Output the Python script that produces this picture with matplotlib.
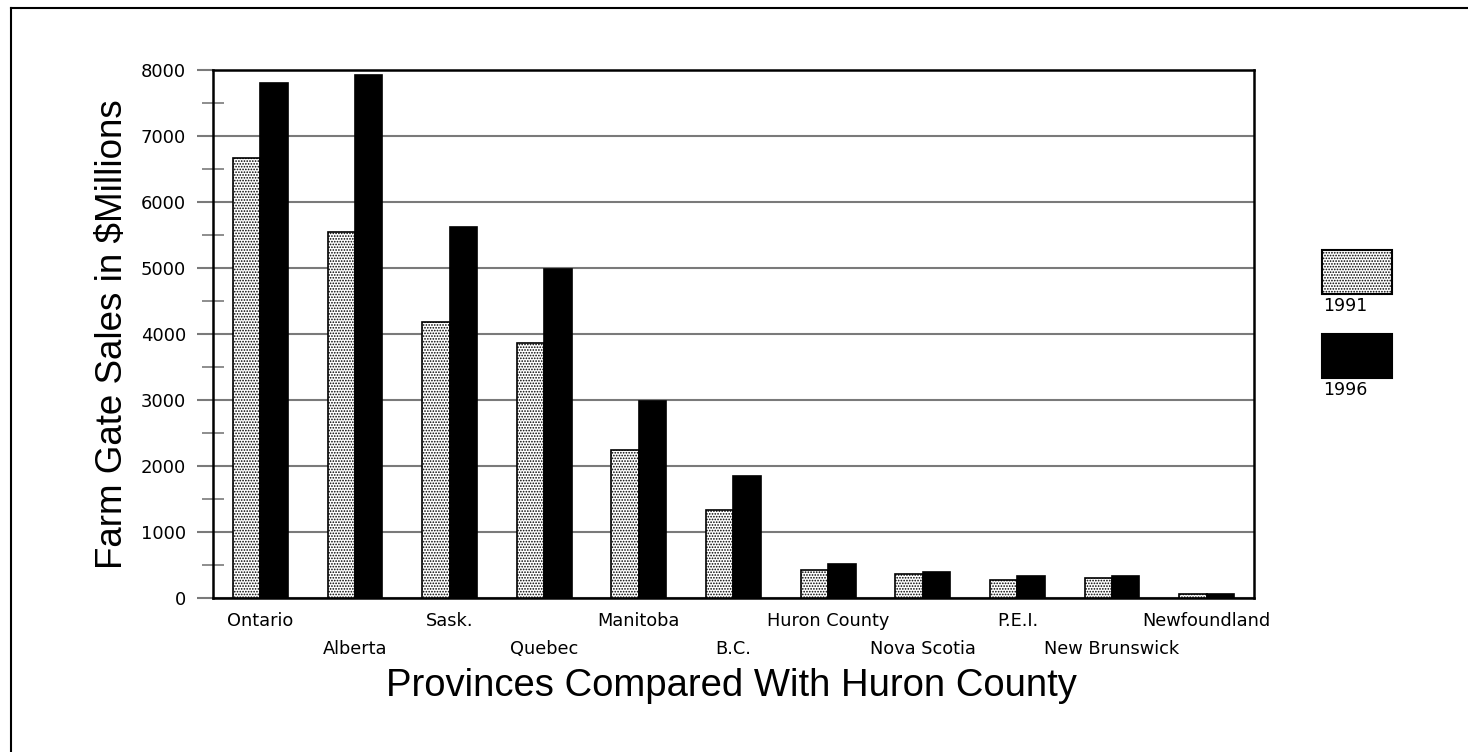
import matplotlib
matplotlib.use('Agg')
import matplotlib.pyplot as plt
import numpy as np
from matplotlib.patches import Rectangle
from matplotlib.lines import Line2D

# data
provinces = ['Ontario', 'Alberta', 'Sask.', 'Quebec', 'Manitoba', 'B.C.',
             'Huron County', 'Nova Scotia', 'P.E.I.', 'New Brunswick', 'Newfoundland']
sales_1991 = [6670, 5550, 4180, 3860, 2240, 1330, 425, 365, 275, 305, 60]
sales_1996 = [7800, 7920, 5620, 4990, 2985, 1850, 515, 395, 335, 335, 55]
years = ['1991', '1996']

plt.rcParams['hatch.linewidth'] = 0.8
plt.rcParams['hatch.color'] = '#444444'

fig = plt.figure(figsize=(14.68, 7.52), dpi=100)
ax = fig.add_axes([0.1451, 0.2048, 0.7091, 0.7021])

xs = np.arange(len(provinces))
w = 0.29
ax.bar(xs - w/2, sales_1991, w, color='white', edgecolor='black', linewidth=1.2,
       hatch='......', zorder=3)
ax.bar(xs + w/2, sales_1996, w, color='black', edgecolor='black', linewidth=1.2, zorder=3)

ax.set_xlim(-0.5, len(provinces) - 0.5)
ax.set_ylim(0, 8000)

# y axis ticks / grid
ax.set_yticks(range(0, 8001, 1000))
ax.set_yticks(range(500, 8000, 1000), minor=True)
ax.yaxis.grid(True, which='major', color='#7a7a7a', linewidth=1.5, zorder=0)
ax.tick_params(axis='y', which='major', direction='out', length=11.5, width=1.5,
               color='#7a7a7a', labelsize=13, pad=8)
ax.tick_params(axis='y', which='minor', direction='inout', length=16, width=1.2,
               color='#7a7a7a')

# staggered province labels: even ones as major ticks, odd ones as minor
ax.set_xticks(xs[0::2])
ax.set_xticklabels(provinces[0::2])
ax.set_xticks(xs[1::2], minor=True)
ax.set_xticklabels(provinces[1::2], minor=True)
ax.tick_params(axis='x', which='major', length=0, labelsize=12.8, pad=10)
ax.tick_params(axis='x', which='minor', length=0, labelsize=12.8, pad=30)

for s in ax.spines.values():
    s.set_linewidth(1.8)
    s.set_color('black')

ax.set_ylabel('Farm Gate Sales in $Millions', fontsize=26.5, family='Liberation Sans',
              labelpad=8)
fig.text(0.498, 0.088, 'Provinces Compared With Huron County', fontsize=27.5,
         family='Liberation Sans', ha='center', va='center')

# legend, label under each box
leg_x = 0.9005
leg_w = 0.0477
leg_h = 0.0585
for y0, yr, fc, hatch in [(0.6090, years[0], 'white', '......'),
                          (0.4973, years[1], 'black', None)]:
    fig.patches.append(Rectangle((leg_x, y0), leg_w, leg_h, transform=fig.transFigure,
                                 facecolor=fc, edgecolor='black', linewidth=1.5,
                                 hatch=hatch))
    fig.text(leg_x + 0.001, y0 - 0.004, yr, fontsize=12.5, ha='left', va='top')

# frame lines along top and left edge of the picture
fig.lines.append(Line2D([0.0075, 0.0075], [0, 0.989], transform=fig.transFigure,
                        color='black', linewidth=1.5))
fig.lines.append(Line2D([0.0075, 1], [0.989, 0.989], transform=fig.transFigure,
                        color='black', linewidth=1.5))

fig.savefig('out.png', dpi=100, facecolor='white')
